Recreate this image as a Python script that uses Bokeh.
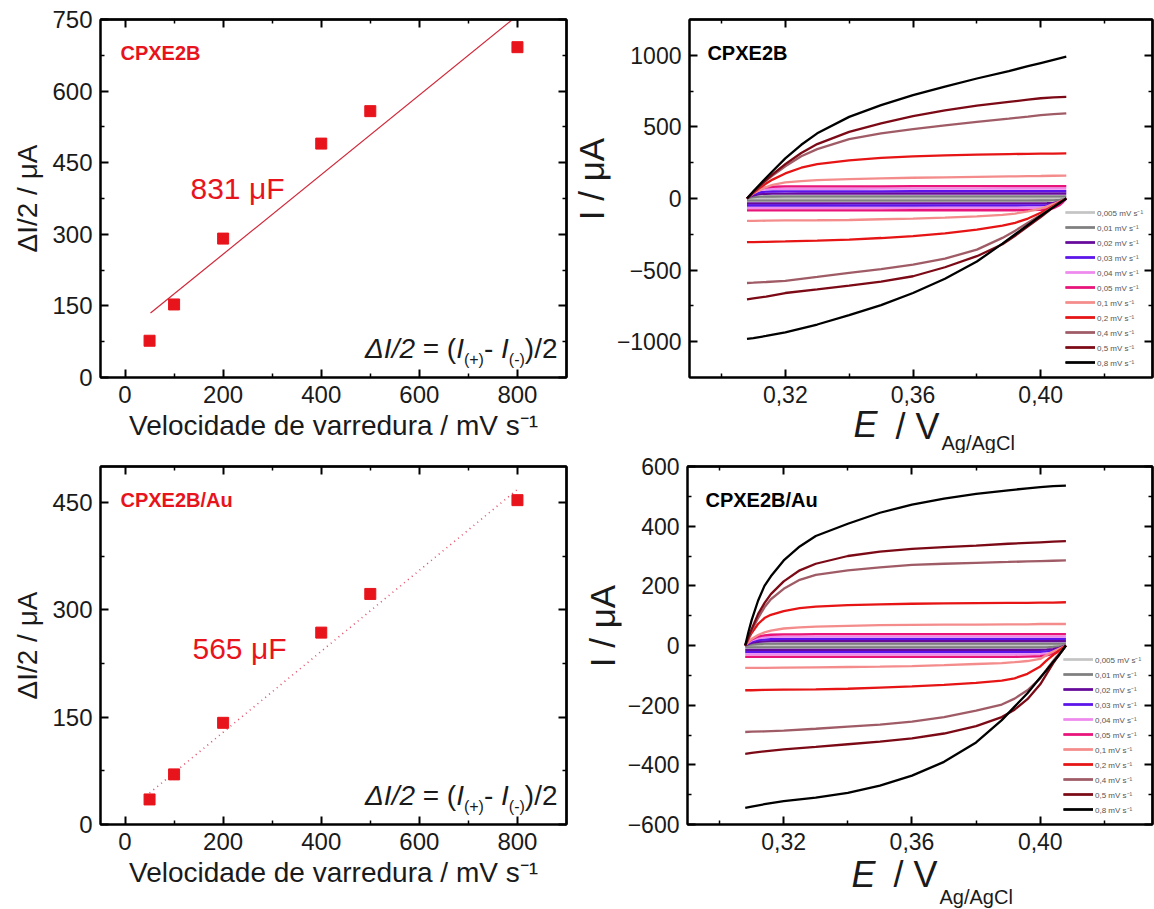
import math
from bokeh.plotting import figure
from bokeh.models import (Range1d, LinearAxis, FixedTicker, CustomJSTickFormatter, Label, Title,
                          Legend, LegendItem)
from bokeh.layouts import column, row
from bokeh.embed import file_html
from bokeh.resources import INLINE

# ---------------- data ----------------
scan_rate = [50, 100, 200, 400, 500, 800]                 # mV s-1
half_dI_cpxe2b = [77, 153, 291, 490, 558, 692]            # uA
half_dI_cpxe2b_au = [35, 70, 142, 268, 322, 453]          # uA
fit_x_cpxe2b = [52, 790]
fit_y_cpxe2b = [135, 750]
fit_x_cpxe2b_au = [50, 800]
fit_y_cpxe2b_au = [44, 468]

cv_labels = ["0,005 mV s\u207b\u00b9", "0,01 mV s\u207b\u00b9", "0,02 mV s\u207b\u00b9",
             "0,03 mV s\u207b\u00b9", "0,04 mV s\u207b\u00b9", "0,05 mV s\u207b\u00b9",
             "0,1 mV s\u207b\u00b9", "0,2 mV s\u207b\u00b9", "0,4 mV s\u207b\u00b9",
             "0,5 mV s\u207b\u00b9", "0,8 mV s\u207b\u00b9"]
cv_colors = ["#c4c4c4", "#7f7f7f", "#660a9c", "#5c14ea", "#ee8aee", "#e8147a",
             "#f48c8c", "#e61414", "#a05c66", "#7c0a16", "#000000"]

E_fwd = [0.308, 0.309, 0.310, 0.312, 0.314, 0.316, 0.320, 0.325, 0.330, 0.340,
         0.350, 0.360, 0.370, 0.380, 0.390, 0.396, 0.400, 0.404, 0.408]
E_rev = [0.408, 0.407, 0.406, 0.404, 0.402, 0.400, 0.396, 0.392, 0.388, 0.380,
         0.370, 0.360, 0.350, 0.340, 0.330, 0.320, 0.314, 0.310, 0.308]

cv_cpxe2b_fwd = [
    [0, 3, 5, 6, 7, 7, 7, 7, 7, 7, 7, 7, 7, 7, 7, 7, 7, 7, 7],
    [0, 7, 10, 13, 14, 14, 15, 15, 15, 15, 15, 15, 15, 15, 15, 15, 15, 15, 15],
    [0, 14, 22, 30, 33, 34, 34, 35, 35, 35, 35, 35, 35, 35, 35, 35, 35, 35, 35],
    [0, 18, 30, 43, 48, 49, 50, 50, 50, 50, 50, 51, 51, 51, 51, 51, 51, 51, 51],
    [0, 22, 40, 58, 65, 67, 68, 68, 68, 68, 69, 69, 69, 69, 70, 70, 70, 70, 70],
    [0, 25, 45, 68, 78, 82, 84, 85, 85, 85, 85, 86, 86, 86, 86, 86, 86, 86, 86],
    [0, 18, 35, 60, 80, 95, 112, 122, 128, 135, 140, 145, 148, 151, 154, 156, 157, 159, 160],
    [0, 20, 40, 75, 105, 132, 175, 215, 240, 266, 283, 294, 301, 306, 310, 312, 313, 314, 315],
    [0, 22, 45, 85, 125, 160, 225, 295, 345, 415, 455, 485, 510, 535, 558, 572, 582, 589, 595],
    [0, 22, 45, 88, 130, 168, 240, 318, 380, 465, 525, 575, 615, 648, 675, 690, 700, 706, 710],
    [0, 25, 50, 98, 145, 190, 280, 375, 455, 570, 652, 722, 782, 838, 890, 924, 946, 968, 990],
]
cv_cpxe2b_rev = [
    [0, -3, -5, -6, -7, -7, -7, -7, -7, -7, -7, -7, -7, -7, -7, -7, -7, -7, -7],
    [0, -7, -10, -13, -14, -14, -15, -15, -15, -15, -15, -15, -15, -15, -15, -15, -15, -15, -15],
    [0, -14, -22, -30, -33, -34, -34, -34, -34, -34, -34, -34, -34, -34, -35, -35, -35, -35, -35],
    [0, -18, -30, -42, -46, -48, -48, -49, -49, -49, -49, -49, -49, -49, -49, -49, -49, -49, -49],
    [0, -22, -40, -57, -63, -65, -66, -66, -66, -66, -66, -67, -67, -67, -67, -67, -67, -67, -67],
    [0, -25, -45, -68, -76, -79, -81, -82, -82, -82, -82, -82, -83, -83, -83, -83, -83, -83, -83],
    [0, -10, -20, -38, -55, -70, -90, -105, -115, -125, -133, -140, -145, -150, -152, -153, -155, -156, -156],
    [0, -12, -25, -50, -75, -100, -140, -170, -190, -217, -243, -263, -276, -287, -294, -300, -303, -304, -305],
    [0, -14, -28, -55, -85, -115, -170, -225, -275, -357, -420, -461, -493, -520, -548, -575, -583, -588, -590],
    [0, -15, -30, -60, -95, -130, -195, -260, -320, -403, -480, -543, -580, -608, -635, -660, -685, -698, -705],
    [0, -15, -30, -60, -90, -120, -185, -250, -315, -440, -560, -660, -745, -815, -880, -935, -960, -975, -980],
]
cv_au_fwd = [
    [0, 1, 2, 3, 3, 3, 3, 3, 3, 3, 3, 3, 3, 3, 3, 3, 3, 3, 3],
    [0, 2, 3, 5, 6, 6, 6, 6, 6, 6, 6, 6, 6, 6, 6, 6, 6, 6, 6],
    [0, 5, 9, 12, 14, 15, 15, 15, 15, 15, 15, 15, 15, 15, 15, 15, 15, 15, 15],
    [0, 8, 13, 18, 20, 21, 22, 22, 22, 22, 22, 22, 22, 22, 22, 22, 22, 22, 22],
    [0, 10, 17, 24, 28, 29, 30, 30, 30, 30, 30, 30, 30, 30, 30, 30, 30, 30, 30],
    [0, 12, 20, 30, 34, 36, 37, 37, 38, 38, 38, 38, 38, 38, 38, 38, 38, 38, 38],
    [0, 12, 22, 35, 44, 50, 57, 61, 63, 66, 68, 69, 70, 70, 71, 71, 72, 72, 72],
    [0, 22, 42, 72, 92, 103, 115, 125, 130, 135, 138, 140, 141, 142, 143, 143, 144, 144, 145],
    [0, 25, 50, 92, 128, 155, 190, 220, 237, 252, 262, 270, 274, 277, 280, 282, 283, 284, 285],
    [0, 28, 55, 105, 142, 172, 215, 252, 274, 300, 315, 324, 330, 335, 341, 344, 346, 348, 350],
    [0, 45, 85, 150, 200, 232, 285, 332, 367, 408, 445, 472, 492, 508, 520, 527, 531, 534, 536],
]
cv_au_rev = [
    [0, -1, -2, -3, -3, -3, -3, -3, -3, -3, -3, -3, -3, -3, -3, -3, -3, -3, -3],
    [0, -2, -3, -5, -6, -6, -6, -6, -6, -6, -6, -6, -6, -6, -6, -6, -6, -6, -6],
    [0, -4, -8, -12, -14, -15, -15, -15, -15, -15, -15, -15, -15, -15, -15, -15, -15, -15, -15],
    [0, -6, -11, -17, -20, -21, -22, -22, -22, -22, -22, -22, -22, -22, -22, -22, -22, -22, -22],
    [0, -8, -15, -23, -27, -29, -30, -30, -30, -30, -30, -30, -30, -30, -30, -30, -30, -30, -30],
    [0, -10, -18, -28, -33, -36, -37, -38, -38, -38, -38, -38, -38, -38, -38, -38, -38, -38, -38],
    [0, -5, -10, -20, -32, -45, -52, -56, -59, -62, -66, -69, -71, -72, -73, -74, -75, -75, -75],
    [0, -8, -16, -32, -50, -70, -95, -110, -118, -125, -132, -137, -141, -145, -147, -148, -149, -150, -150],
    [0, -13, -26, -52, -80, -110, -150, -178, -198, -218, -240, -255, -265, -272, -279, -285, -288, -289, -290],
    [0, -15, -30, -60, -95, -130, -180, -215, -240, -270, -295, -311, -322, -331, -340, -348, -355, -360, -363],
    [0, -15, -30, -55, -82, -107, -160, -205, -250, -325, -390, -436, -470, -494, -510, -522, -532, -540, -544],
]

# tick positions
rate_major = [0, 200, 400, 600, 800]
rate_minor = [100, 300, 500, 700]
tl_y_major = [0, 150, 300, 450, 600, 750]
tl_y_minor = [75, 225, 375, 525, 675]
bl_y_major = [0, 150, 300, 450]
bl_y_minor = [75, 225, 375]
e_major = [0.32, 0.36, 0.40]
e_minor = [0.30, 0.34, 0.38, 0.42]
tr_y_major = [-1000, -500, 0, 500, 1000]
tr_y_minor = [-750, -250, 250, 750]
br_y_major = [-600, -400, -200, 0, 200, 400, 600]
br_y_minor = [-500, -300, -100, 100, 300, 500]

FONT = "Liberation Sans"
RED = "#e8141c"
INK = "#1a1a1a"

# --------------- helpers ---------------
CW = {' ': 0.278, '(': 0.333, ')': 0.333, '+': 0.584, ',': 0.278, '-': 0.333, '.': 0.278,
      '/': 0.278, '=': 0.584, 'A': 0.667, 'B': 0.667, 'C': 0.722, 'E': 0.667, 'F': 0.611,
      'I': 0.278, 'P': 0.667, 'V': 0.667, 'X': 0.667, '\u0394': 0.668, '\u03bc': 0.576}


def tw(s, size):
    return sum(CW.get(c, 0.556) for c in s) * size


class Geo:
    def __init__(self, fx0, fx1, fy0, fy1, xr, yr):
        self.fx0, self.fx1, self.fy0, self.fy1, self.xr, self.yr = fx0, fx1, fy0, fy1, xr, yr

    def x(self, px):
        return self.xr[0] + (px - self.fx0) / (self.fx1 - self.fx0) * (self.xr[1] - self.xr[0])

    def y(self, py):
        return self.yr[1] - (py - self.fy0) / (self.fy1 - self.fy0) * (self.yr[1] - self.yr[0])


def label(p, g, px, py, text, size, style="normal", color=INK):
    p.add_layout(Label(x=g.x(px), y=g.y(py), text=text, text_font=FONT,
                       text_font_size=f"{size}px", text_font_style=style,
                       text_color=color, text_align="left", text_baseline="alphabetic"))


def seq(p, g, pieces, x0, base, color=INK):
    x = x0
    for text, size, style, dy in pieces:
        stripped = text.lstrip(" ")
        x += tw(text[:len(text) - len(stripped)], size)
        label(p, g, x, base + dy, stripped.rstrip(" "), size, style, color)
        x += tw(stripped, size)


def seq_width(pieces):
    return sum(tw(t, s) for t, s, _, _ in pieces)


def style_axis(ax, size):
    ax.axis_line_width = 2
    ax.axis_line_color = "black"
    ax.major_tick_in = 8
    ax.major_tick_out = 0
    ax.minor_tick_in = 4
    ax.minor_tick_out = 0
    ax.major_tick_line_width = 2
    ax.minor_tick_line_width = 1.5
    ax.major_tick_line_color = "black"
    ax.minor_tick_line_color = "black"
    ax.major_label_text_font = FONT
    ax.major_label_text_font_size = size
    ax.major_label_text_color = INK
    ax.major_label_standoff = 8
    ax.axis_label_text_font = FONT
    ax.axis_label_text_font_style = "normal"
    ax.axis_label_text_color = INK


def mirror(p, side, majors, minors):
    # tick marks only (no labels) on the top / right frame edges
    for locs, length, lw in [(majors, 8, 2), (minors, 4, 1.5)]:
        ax = LinearAxis(ticker=FixedTicker(ticks=[], minor_ticks=locs))
        ax.major_tick_in = 0
        ax.major_tick_out = 0
        ax.minor_tick_in = length
        ax.minor_tick_out = 0
        ax.minor_tick_line_width = lw
        ax.minor_tick_line_color = "black"
        ax.major_label_standoff = 0
        ax.axis_line_width = 2
        ax.axis_line_color = "black"
        p.add_layout(ax, side)


def make_fig(w, h, bl, br, bt, bb, xr, yr, xt, yt, tick_size, xfmt=None):
    p = figure(width=w, height=h, x_range=Range1d(*xr), y_range=Range1d(*yr),
               output_backend="svg", toolbar_location=None,
               min_border_left=bl, min_border_right=br, min_border_top=bt, min_border_bottom=bb)
    p.xgrid.visible = False
    p.ygrid.visible = False
    p.outline_line_color = "black"
    p.outline_line_width = 2
    p.background_fill_color = "white"
    p.border_fill_color = "white"
    xa = p.below[0]
    ya = p.left[0]
    xa.ticker = FixedTicker(ticks=xt[0], minor_ticks=xt[1])
    ya.ticker = FixedTicker(ticks=yt[0], minor_ticks=yt[1])
    if xfmt is not None:
        xa.formatter = xfmt
    style_axis(xa, tick_size)
    style_axis(ya, tick_size)
    mirror(p, "above", xt[0], xt[1])
    mirror(p, "right", yt[0], yt[1])
    return p, xa, ya


def below_title(p, text, size, offset, standoff, style="normal"):
    p.add_layout(Title(text=text, align="left", offset=offset, vertical_align="top",
                       standoff=standoff, text_font=FONT, text_font_size=f"{size}px",
                       text_font_style=style, text_color=INK), "below")


comma_fmt = CustomJSTickFormatter(code="return tick.toFixed(2).replace('.', ',');")

TOP_H = 453
BOT_H = 909 - TOP_H
LW = 568           # width of the left column figures
RW = 1154 - LW     # width of the right column figures
g_tl = Geo(100, 566, 19, 377, (-50, 900), (0, 750))
g_tr = Geo(687, 1152, 19, 377, (0.29, 0.435), (-1250, 1250))
g_bl = Geo(100, 566, 466, 824, (-50, 900), (0, 500))
g_br = Geo(687, 1152, 466, 824, (0.29, 0.435), (-600, 600))

tl, tl_x, tl_y = make_fig(LW, TOP_H, 100, LW - 566, 19, TOP_H - 377, g_tl.xr, g_tl.yr,
                          (rate_major, rate_minor), (tl_y_major, tl_y_minor), "24px")
tr, tr_x, tr_y = make_fig(RW, TOP_H, 687 - LW, 2, 19, TOP_H - 377, g_tr.xr, g_tr.yr,
                          (e_major, e_minor), (tr_y_major, tr_y_minor), "23px", comma_fmt)
bl, bl_x, bl_y = make_fig(LW, BOT_H, 100, LW - 566, 466 - TOP_H, 909 - 824, g_bl.xr, g_bl.yr,
                          (rate_major, rate_minor), (bl_y_major, bl_y_minor), "24px")
br, br_x, br_y = make_fig(RW, BOT_H, 687 - LW, 2, 466 - TOP_H, 909 - 824, g_br.xr, g_br.yr,
                          (e_major, e_minor), (br_y_major, br_y_minor), "23px", comma_fmt)

# ---- left panels: scan-rate plots ----
tl.line(fit_x_cpxe2b, fit_y_cpxe2b, line_color="#d0283a", line_width=1.2)
tl.scatter(scan_rate, half_dI_cpxe2b, marker="square", size=11, color=RED)
bl.line(fit_x_cpxe2b_au, fit_y_cpxe2b_au, line_color="#e0506a", line_width=1.6, line_dash="1 4")
bl.scatter(scan_rate, half_dI_cpxe2b_au, marker="square", size=11, color=RED)

formula = [("\u0394I/2", 28, "italic", 0), (" = (", 28, "normal", 0), ("I", 28, "italic", 0),
           ("(+)", 16, "normal", 11), ("- ", 28, "normal", 0), ("I", 28, "italic", 0),
           ("(-)", 16, "normal", 11), (")/2", 28, "normal", 0)]
fw = seq_width(formula)

for p, xa, ya, g, name, cap, capx, capy, dy in [
        (tl, tl_x, tl_y, g_tl, "CPXE2B", "831 \u03bcF", 190, 188, 0),
        (bl, bl_x, bl_y, g_bl, "CPXE2B/Au", "565 \u03bcF", 192, 648, 447)]:
    label(p, g, 120, 52 + dy, name, 20, "bold", RED)
    label(p, g, capx, capy, cap, 30, "normal", RED)
    seq(p, g, formula, 557 - fw, 348 + dy)
    xa.axis_label = "Velocidade de varredura / mV s\u207b\u00b9"
    xa.axis_label_text_font_size = "28px"
    xa.axis_label_standoff = 4
    ya.axis_label = "\u0394I/2 / \u03bcA"
    ya.axis_label_text_font_size = "28px"
    ya.axis_label_standoff = 6

# ---- right panels: cyclic voltammograms ----
# (standoff of "E", standoff of subscript, standoff of "/ V") per panel
title_standoffs = {"CPXE2B": (-4, -26, -78), "CPXE2B/Au": (2, -24, -88)}
for p, ya, g, name, fwd, rev, dy in [
        (tr, tr_y, g_tr, "CPXE2B", cv_cpxe2b_fwd, cv_cpxe2b_rev, 0),
        (br, br_y, g_br, "CPXE2B/Au", cv_au_fwd, cv_au_rev, 447)]:
    items = []
    for lab, col, up, dn in zip(cv_labels, cv_colors, fwd, rev):
        r1 = p.line(E_fwd, up, line_color=col, line_width=2.3)
        r2 = p.line(E_rev, dn, line_color=col, line_width=2.3)
        items.append(LegendItem(label=lab, renderers=[r1, r2]))
    lg = Legend(items=items, location=(376, 8), border_line_alpha=0, background_fill_alpha=0,
                label_text_font=FONT, label_text_font_size="8px", label_text_color="#555555",
                glyph_width=30, glyph_height=14, label_height=14, label_standoff=2,
                spacing=1, padding=0, margin=0)
    p.add_layout(lg, "center")
    label(p, g, 705, 52 + dy, name, 20, "bold", "black")
    ya.axis_label = "\u00a0\u00a0\u00a0\u00a0I / \u03bcA"
    ya.axis_label_text_font_size = "35px"
    ya.axis_label_standoff = 3
    sa, sc, sb = title_standoffs[name]
    below_title(p, "E", 36, 164, sa, "italic")
    below_title(p, "Ag/AgCl", 20, 252, sc)
    below_title(p, "/ V", 36, 206, sb)

layout = column(row(tl, tr, spacing=0), row(bl, br, spacing=0), spacing=0)
open("out.html", "w").write(file_html(layout, INLINE))
